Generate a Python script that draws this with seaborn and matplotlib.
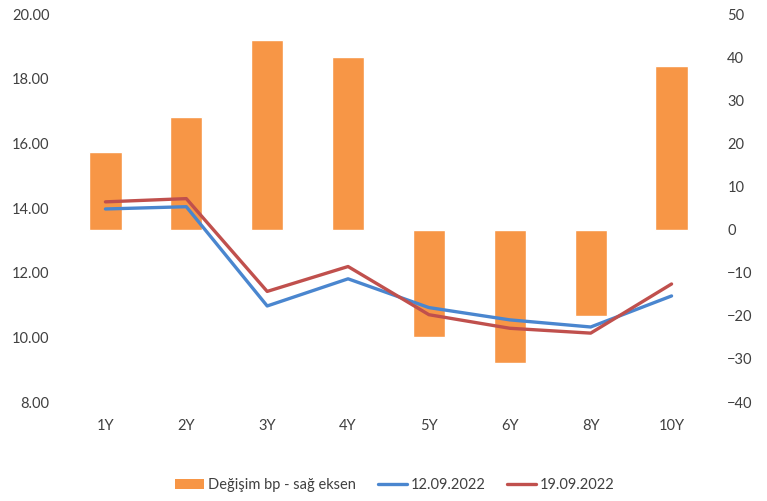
import matplotlib
matplotlib.use("Agg")
import matplotlib.pyplot as plt
import seaborn as sns
import pandas as pd
from matplotlib.ticker import FormatStrFormatter
from matplotlib.patches import Patch
from matplotlib.lines import Line2D

# data
tenors = ["1Y", "2Y", "3Y", "4Y", "5Y", "6Y", "8Y", "10Y"]
change_bp = [18, 26, 44, 40, -25, -31, -20, 38]
yield_1209 = [13.97, 14.04, 10.97, 11.81, 10.92, 10.54, 10.32, 11.28]
yield_1909 = [14.19, 14.29, 11.42, 12.19, 10.70, 10.28, 10.13, 11.65]

bar_label = "Değişim bp - sağ eksen"
label_1209 = "12.09.2022"
label_1909 = "19.09.2022"

orange = "#F79646"
blue = "#4A86CF"
red = "#C0504D"
txt = "#404040"

sns.set_theme(style="white")
plt.rcParams["font.family"] = ["Lato", "DejaVu Sans"]

df = pd.DataFrame({"tenor": tenors, "bp": change_bp,
                   "y1": yield_1209, "y2": yield_1909})

fig = plt.figure(figsize=(7.67, 5.01), dpi=100)
ax = fig.add_axes([65 / 767, 1 - 402 / 501, (712 - 65) / 767, (402 - 14) / 501])

# bars on the right-hand scale
sns.barplot(data=df, x="tenor", y="bp", color=orange, saturation=1,
            width=0.4, ax=ax)
ax.set_ylim(-40, 50)
ax.set_yticks(range(-40, 51, 10))

# yield lines on the left-hand scale (twin drawn on top of the bars)
ax2 = ax.twinx()
sns.lineplot(data=df, x="tenor", y="y1", color=blue, lw=2.4, ax=ax2)
sns.lineplot(data=df, x="tenor", y="y2", color=red, lw=2.4, ax=ax2)
ax2.set_ylim(8, 20)
ax2.set_yticks(range(8, 21, 2))
ax2.yaxis.set_major_formatter(FormatStrFormatter("%.2f"))
ax.set_xlim(-0.5, len(tenors) - 0.5)

# swap sides: bars scale right, yields scale left
ax.yaxis.tick_right()
ax2.yaxis.tick_left()

for a in (ax, ax2):
    a.set_xlabel("")
    a.set_ylabel("")
    for s in a.spines.values():
        s.set_visible(False)
    a.tick_params(axis="both", length=0, labelsize=10.5, labelcolor=txt)
ax.tick_params(axis="x", pad=12)
ax.tick_params(axis="y", pad=11)
ax2.tick_params(axis="y", pad=11)

handles = [Patch(facecolor=orange, edgecolor="none"),
           Line2D([], [], color=blue, lw=2.4),
           Line2D([], [], color=red, lw=2.4)]
fig.legend(handles, [bar_label, label_1209, label_1909], ncol=3,
           loc="center", bbox_to_anchor=(395 / 767, 1 - 485 / 501),
           frameon=False, fontsize=10.5, labelcolor=txt,
           handlelength=2.0, handletextpad=0.25, columnspacing=1.5)

fig.savefig("out.png", dpi=100)
